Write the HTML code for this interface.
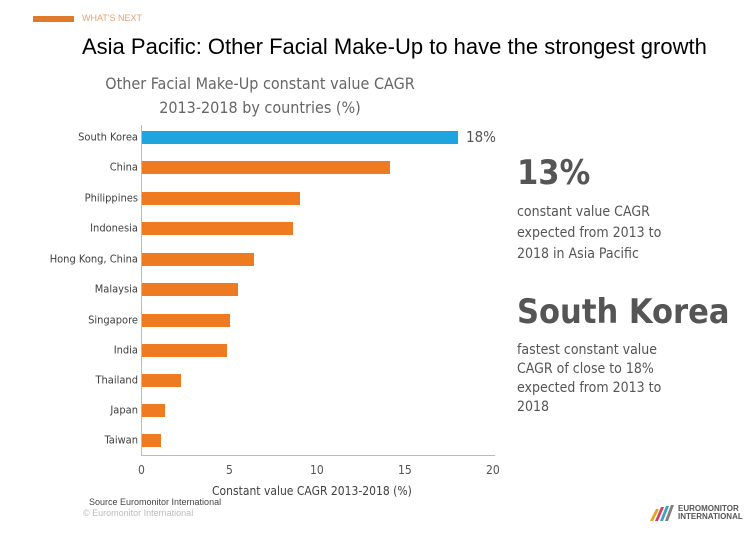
<!DOCTYPE html>
<html><head><style>
body{margin:0;width:749px;height:533px;background:#fff;position:relative;overflow:hidden;font-family:"Liberation Sans",sans-serif}
.a{position:absolute;white-space:nowrap}
.c{font-family:"DejaVu Sans Condensed","Liberation Sans Narrow","Liberation Sans",sans-serif}
.lbl{position:absolute;right:611px;font-size:11px;color:#404040;transform:translateY(-50%)}
.bar{position:absolute;left:142px;height:13px;background:#ee7b22}
</style></head><body>
<div class="a" style="left:33px;top:16px;width:41px;height:6px;background:#e07a2a"></div>
<div class="a" style="left:82px;top:13px;font-size:9px;color:#e8a070">WHAT'S NEXT</div>
<div class="a" style="left:82px;top:34px;font-size:22px;color:#000">Asia Pacific: Other Facial Make-Up to have the strongest growth</div>
<div class="a c" style="left:80px;top:72px;font-size:16px;color:#666;text-align:center;width:360px;line-height:24px">Other Facial Make-Up constant value CAGR<br>2013-2018 by countries (%)</div>

<div class="lbl c" style="top:137px">South Korea</div>
<div class="lbl c" style="top:167px">China</div>
<div class="lbl c" style="top:198px">Philippines</div>
<div class="lbl c" style="top:228px">Indonesia</div>
<div class="lbl c" style="top:259px">Hong Kong, China</div>
<div class="lbl c" style="top:289px">Malaysia</div>
<div class="lbl c" style="top:320px">Singapore</div>
<div class="lbl c" style="top:350px">India</div>
<div class="lbl c" style="top:380px">Thailand</div>
<div class="lbl c" style="top:410px">Japan</div>
<div class="lbl c" style="top:440px">Taiwan</div>

<div class="a" style="left:141px;top:125px;width:1px;height:331px;background:#bbb"></div>
<div class="bar" style="top:131px;width:316px;background:#1ea5e0"></div>
<div class="a c" style="left:466px;top:128px;font-size:15px;color:#555">18%</div>
<div class="bar" style="top:161px;width:248px"></div>
<div class="bar" style="top:192px;width:158px"></div>
<div class="bar" style="top:222px;width:151px"></div>
<div class="bar" style="top:253px;width:112px"></div>
<div class="bar" style="top:283px;width:96px"></div>
<div class="bar" style="top:314px;width:88px"></div>
<div class="bar" style="top:344px;width:85px"></div>
<div class="bar" style="top:374px;width:39px"></div>
<div class="bar" style="top:404px;width:23px"></div>
<div class="bar" style="top:434px;width:19px"></div>

<div class="a" style="left:141px;top:455px;width:354px;height:1px;background:#bbb"></div>
<div class="a c" style="left:138px;top:463px;font-size:12px;color:#555">0</div>
<div class="a c" style="left:226px;top:463px;font-size:12px;color:#555">5</div>
<div class="a c" style="left:310px;top:463px;font-size:12px;color:#555">10</div>
<div class="a c" style="left:398px;top:463px;font-size:12px;color:#555">15</div>
<div class="a c" style="left:486px;top:463px;font-size:12px;color:#555">20</div>
<div class="a c" style="left:212px;top:484px;font-size:12px;color:#404040">Constant value CAGR 2013-2018 (%)</div>
<div class="a" style="left:89px;top:497px;font-size:9px;color:#444">Source Euromonitor International</div>
<div class="a" style="left:83px;top:508px;font-size:9px;color:#bbb">© Euromonitor International</div>

<div class="a c" style="left:517px;top:153px;font-size:34px;font-weight:bold;color:#555">13%</div>
<div class="a c" style="left:517px;top:202px;font-size:14px;color:#555;line-height:21px">constant value CAGR<br>expected from 2013 to<br>2018 in Asia Pacific</div>
<div class="a c" style="left:517px;top:292px;font-size:34px;font-weight:bold;color:#555">South Korea</div>
<div class="a c" style="left:517px;top:341px;font-size:14px;color:#555;line-height:19px">fastest constant value<br>CAGR of close to 18%<br>expected from 2013 to<br>2018</div>

<svg class="a" style="left:650px;top:505px" width="28" height="16">
<polygon points="0,16 6,4 9,4 3,16" fill="#e8a020"/><polygon points="5,16 11,2 14,2 8,16" fill="#d04060"/><polygon points="10,16 16,1 19,1 13,16" fill="#40a0c0"/><polygon points="15,16 21,0 24,0 18,16" fill="#808080"/></svg>
<div class="a" style="left:678px;top:505px;font-size:8px;font-weight:bold;color:#555;line-height:8px">EUROMONITOR<br>INTERNATIONAL</div>
</body></html>
